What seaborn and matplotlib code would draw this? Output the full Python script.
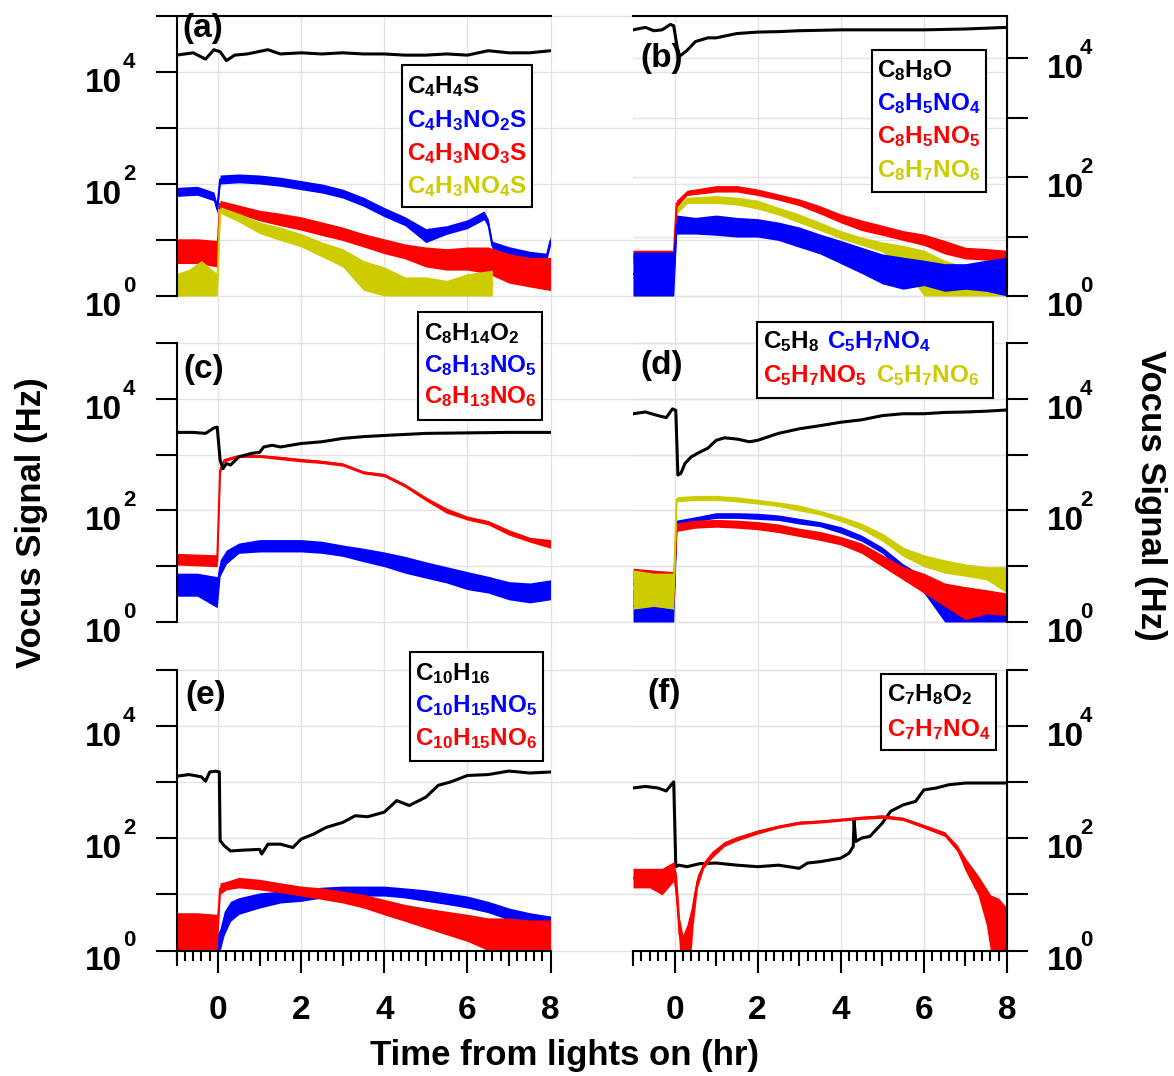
import numpy as np
import matplotlib
matplotlib.use("Agg")
import matplotlib.pyplot as plt
import matplotlib.transforms as mtransforms
import seaborn as sns
from matplotlib.patches import Rectangle
from matplotlib.ticker import FixedLocator, MultipleLocator, NullLocator

# ---------------- data (Hz vs hours from lights on) ----------------
# panel (a)
a_black_t = [-1, -0.6, -0.3, -0.1, 0.05, 0.2, 0.4, 0.7, 1.2, 1.5, 2, 2.5, 3, 3.5, 4, 4.5, 5, 5.5, 6, 6.5, 7, 7.5, 8]
a_black_v = [20000, 22000, 17000, 25000, 23000, 16000, 20000, 21000, 25000, 21000, 22000, 21000, 22000, 21000,
             21000, 20000, 20000, 21000, 20000, 24000, 22000, 22000, 24000]
a_blue_t = [-1, -0.5, -0.1, -0.02, 0.05, 0.5, 1, 1.5, 2, 2.5, 3, 3.5, 4, 4.5, 5, 5.5, 6, 6.4, 6.5, 6.6, 7, 7.5, 7.9, 8]
a_blue_lo = [60, 63, 50, 30, 100, 105, 100, 91, 79, 69, 56, 40, 26, 18, 9, 12.6, 16, 23, 17, 6.6, 5.2, 4.4, 4.0, 8.1]
a_blue_hi = [87, 91, 72, 43, 145, 151, 145, 132, 115, 100, 81, 58, 38, 26, 16, 18, 23, 33, 24, 9.5, 7.6, 6.3, 5.8, 11.7]
a_red_t = [-1, -0.5, -0.02, 0.05, 0.5, 1, 1.5, 2, 2.5, 3, 3.5, 4, 4.5, 5, 5.5, 6, 6.5, 7, 7.5, 8]
a_red_lo = [3.8, 3.8, 3.3, 39, 29, 22, 18, 15, 12, 9.8, 7.5, 5.7, 4.6, 3.3, 2.9, 2.9, 2.5, 1.7, 1.45, 1.25]
a_red_hi = [10.5, 10.5, 9.8, 51, 42, 34, 30, 26, 21, 17, 13, 10.5, 8.5, 7.5, 7, 7.5, 7.5, 5.7, 4.9, 4.9]
a_yel_t = [-1, -0.7, -0.4, -0.02, 0.05, 0.5, 1, 1.5, 2, 2.5, 3, 3.5, 4, 4.5, 5, 5.5, 6, 6.6]
a_yel_lo = [1, 1, 1, 1, 30, 21, 13, 9.8, 7.5, 5, 3.3, 1.26, 1, 1, 1, 1, 1, 1]
a_yel_hi = [2.5, 3.0, 4.3, 2.5, 39, 30, 21, 17, 13, 9.2, 7, 4.3, 3.3, 2.2, 2.2, 1.9, 2.5, 2.9]

# panel (b)
b_black_t = [-1, -0.7, -0.5, -0.3, -0.1, -0.02, 0.1, 0.3, 0.5, 0.8, 1, 1.5, 2, 2.5, 3, 4, 5, 6, 7, 8]
b_black_v = [30000, 33000, 29000, 30000, 37000, 35000, 10500, 13500, 19000, 22000, 22000, 26000, 27500, 28000,
             29000, 30000, 30000, 30000, 31000, 33000]
b_yel_t = [-1, -0.02, 0.05, 0.3, 1, 1.5, 2, 2.5, 3, 3.5, 4, 4.5, 5, 5.5, 6, 6.5, 7, 7.5, 8]
b_yel_lo = [1, 1, 24, 36, 36, 34, 29, 23, 17, 12.6, 9.2, 7.1, 5.5, 3.1, 1, 1, 1, 1, 1]
b_yel_hi = [4, 4, 31, 46, 49, 46, 41, 31, 24, 17.5, 12.6, 9.8, 8.1, 7.1, 5.9, 4, 3.1, 2.4, 2.4]
b_red_t = [-1, -0.02, 0.05, 0.3, 1, 1.5, 2, 2.5, 3, 3.5, 4, 4.5, 5, 5.5, 6, 6.5, 7, 7.5, 8]
b_red_lo = [3.5, 3.5, 31, 49, 56, 56, 49, 41, 33, 24, 17, 12.6, 10.5, 8.6, 7.1, 5.1, 4.2, 4.0, 4.0]
b_red_hi = [5.9, 5.9, 41, 60, 72, 72, 63, 52, 43, 33, 24, 19, 15.5, 12.6, 11, 8.6, 6.6, 6.3, 5.9]
b_blue_t = [-1, -0.02, 0.05, 0.5, 1, 1.5, 2, 2.5, 3, 3.5, 4, 4.5, 5, 5.5, 6, 6.5, 7, 7.5, 8]
b_blue_lo = [1, 1, 11, 11, 10.5, 9.8, 9.8, 8.6, 6.6, 5.1, 3.5, 2.4, 1.6, 1.3, 1.5, 1.2, 1.3, 1.2, 1.0]
b_blue_hi = [5.5, 5.5, 23, 21, 23, 21, 20, 17.5, 14.5, 11, 8.6, 6.6, 5.1, 4.5, 4, 3.5, 3.5, 4, 4.5]

# panel (c)
c_black_t = [-1, -0.6, -0.3, -0.1, -0.02, 0.05, 0.12, 0.2, 0.3, 0.5, 0.8, 1, 1.1, 1.3, 1.5, 2, 2.5, 3, 3.5, 4, 5, 6, 7, 8]
c_black_v = [2500, 2500, 2400, 3000, 3100, 790, 560, 690, 650, 910, 1050, 1100, 1370, 1470, 1370, 1580, 1700,
             1950, 2100, 2200, 2400, 2450, 2500, 2500]
c_red_t = [-1, -0.02, 0.05, 0.15, 0.5, 1, 1.5, 2, 2.5, 3, 3.5, 4, 4.5, 5, 5.5, 6, 6.5, 7, 7.5, 8]
c_red_lo = [10.5, 9.8, 460, 740, 890, 890, 810, 740, 690, 620, 450, 400, 260, 148, 89, 67, 55, 36, 27, 21]
c_red_hi = [17, 16, 600, 850, 1000, 1000, 930, 850, 790, 710, 510, 460, 300, 175, 110, 79, 66, 45, 33, 30]
c_blue_t = [-1, -0.5, -0.02, 0.05, 0.2, 0.5, 1, 1.5, 2, 2.5, 3, 3.5, 4, 4.5, 5, 5.5, 6, 6.5, 7, 7.5, 8]
c_blue_lo = [2.9, 2.9, 1.8, 6.6, 11, 17, 18, 18, 18, 17, 15, 12, 9.8, 7.5, 6.1, 5, 3.8, 3.3, 2.5, 2.2, 2.5]
c_blue_hi = [7.5, 7.5, 6.5, 13, 19.5, 26, 30, 30, 30, 28, 24, 21, 18, 15, 12, 9.8, 8, 6.6, 5.3, 5, 5.7]

# panel (d)
d_black_t = [-1, -0.7, -0.4, -0.2, -0.05, 0.03, 0.08, 0.15, 0.25, 0.4, 0.6, 0.8, 1, 1.2, 1.5, 1.8, 2, 2.5, 3,
             3.5, 4, 4.5, 5, 5.5, 6, 6.5, 7, 7.5, 8]
d_black_v = [5400, 5800, 5000, 4600, 6600, 6200, 430, 460, 690, 910, 1100, 1300, 1800, 2000, 1900, 1700, 1800,
             2400, 2900, 3300, 3800, 4200, 5000, 5400, 5400, 5700, 5800, 6000, 6300]
d_blue_t = [-1, -0.02, 0.05, 0.5, 1, 1.5, 2, 2.5, 3, 3.5, 4, 4.5, 5, 5.5, 6, 6.5, 7, 7.5, 8]
d_blue_lo = [1, 1, 55, 63, 72, 72, 69, 66, 57, 51, 39, 28, 17, 7.5, 3.3, 1, 1, 1, 1]
d_blue_hi = [3.8, 3.5, 67, 77, 91, 91, 89, 83, 72, 63, 51, 36, 22, 11, 6.6, 3.8, 2.5, 2.5, 2.9]
d_red_t = [-1, -0.5, -0.02, 0.05, 0.5, 1, 1.5, 2, 2.5, 3, 3.5, 4, 4.5, 5, 5.5, 6, 6.5, 7, 7.5, 8]
d_red_lo = [2.5, 2.3, 2.1, 42, 48, 50, 48, 45, 40, 34, 29, 24, 17, 9.8, 5.7, 3.3, 1.9, 1.1, 1.4, 1.3]
d_red_hi = [9.2, 8.5, 8, 59, 67, 69, 67, 63, 57, 48, 42, 34, 26, 16, 9.8, 7.5, 5, 4.3, 3.8, 3.3]
d_yel_t = [-1, -0.5, -0.02, 0.05, 0.5, 1, 1.5, 2, 2.5, 3, 3.5, 4, 4.5, 5, 5.5, 6, 6.5, 7, 7.5, 8]
d_yel_lo = [1.7, 1.9, 1.7, 142, 151, 151, 142, 130, 117, 98, 83, 63, 45, 28, 15, 9.8, 7.5, 6.6, 5.7, 3.3]
d_yel_hi = [8.6, 7.5, 7.5, 175, 186, 186, 175, 158, 142, 125, 100, 79, 59, 39, 22, 16, 13, 11, 9.8, 9.8]

# panel (e)
e_black_t = [-1, -0.7, -0.4, -0.3, -0.2, -0.05, 0.03, 0.05, 0.15, 0.3, 0.6, 1, 1.05, 1.2, 1.5, 1.8, 2, 2.3, 2.6,
             3, 3.3, 3.6, 4, 4.3, 4.6, 5, 5.3, 5.6, 6, 6.5, 7, 7.5, 8]
e_black_v = [1260, 1350, 1230, 1030, 1500, 1550, 1500, 90, 73, 59, 61, 63, 52, 78, 78, 68, 96, 118, 155, 190,
             250, 240, 290, 465, 380, 535, 870, 1000, 1300, 1350, 1560, 1440, 1500]
e_blue_t = [-1, -0.02, 0.05, 0.15, 0.3, 0.5, 1, 1.5, 2, 2.5, 3, 3.5, 4, 4.5, 5, 5.5, 6, 6.5, 7, 7.5, 8]
e_blue_lo = [1, 1, 1, 1.9, 3.3, 4.4, 5.7, 7, 7.5, 8.6, 9.3, 9.3, 9.3, 8.6, 7.5, 6.6, 5.7, 4.7, 3.5, 3.1, 2.9]
e_blue_hi = [1.9, 1.9, 2.5, 5, 7.5, 8.7, 10.6, 11.4, 12.2, 13.4, 14, 14, 14, 13, 12, 10.6, 9.3, 7.5, 5.7, 4.7, 4.1]
e_red_t = [-1, -0.5, -0.02, 0.05, 0.2, 0.5, 1, 1.5, 2, 2.5, 3, 3.5, 4, 4.5, 5, 5.5, 6, 6.5, 7, 7.5, 8]
e_red_lo = [1, 1, 1, 10, 12, 13, 12, 10.7, 9.3, 8.1, 7, 5.7, 4.3, 3.3, 2.5, 1.9, 1.45, 1, 1, 1, 1]
e_red_hi = [4.7, 4.7, 4.4, 16, 17, 20, 18.5, 16, 14, 13, 11.4, 10, 8.1, 6.6, 5.7, 5, 4.4, 3.8, 3.8, 3.5, 3.5]

# panel (f)
f_black_t = [-1, -0.7, -0.4, -0.2, -0.08, -0.02, 0.03, 0.1, 0.3, 0.6, 1, 1.5, 2, 2.5, 3, 3.2, 3.5, 4, 4.2, 4.3,
             4.32, 4.36, 4.5, 4.7, 5, 5.2, 5.5, 5.8, 6, 6.3, 6.6, 7, 7.5, 8]
f_black_v = [780, 830, 780, 690, 890, 1000, 31, 33, 31, 35, 36, 33, 31, 33, 29, 36, 38, 44, 54, 71, 210, 87, 100,
             107, 185, 300, 390, 450, 720, 780, 890, 955, 955, 955]
f_red_t = [-1, -0.6, -0.3, -0.02, 0.05, 0.12, 0.2, 0.3, 0.4, 0.45, 0.55, 0.7, 0.9, 1.2, 1.5, 2, 2.5, 3, 3.5, 4,
           4.5, 5, 5.5, 6, 6.5, 6.8, 7, 7.3, 7.5, 7.6, 7.8, 8]
f_red_lo = [13, 13, 9.8, 17, 5.6, 1, 1, 1, 1, 2.9, 13, 29, 44, 71, 89, 118, 150, 175, 185, 200, 215, 225, 205,
            150, 107, 58, 26, 9.8, 2.9, 1, 1, 1]
f_red_hi = [29, 29, 29, 38, 22, 3.8, 1.9, 2.9, 5.7, 9.8, 22, 38, 58, 87, 107, 140, 170, 200, 210, 225, 245, 260,
            235, 175, 130, 76, 44, 22, 13, 9.8, 8.5, 5.7]

# legend labels
a_labels = [r'$C_4H_4S$', r'$C_4H_3NO_2S$', r'$C_4H_3NO_3S$', r'$C_4H_3NO_4S$']
b_labels = [r'$C_8H_8O$', r'$C_8H_5NO_4$', r'$C_8H_5NO_5$', r'$C_8H_7NO_6$']
c_labels = [r'$C_8H_{14}O_2$', r'$C_8H_{13}NO_5$', r'$C_8H_{13}NO_6$']
d_labels = [r'$C_5H_8$', r'$C_5H_7NO_4$', r'$C_5H_7NO_5$', r'$C_5H_7NO_6$']
e_labels = [r'$C_{10}H_{16}$', r'$C_{10}H_{15}NO_5$', r'$C_{10}H_{15}NO_6$']
f_labels = [r'$C_7H_8O_2$', r'$C_7H_7NO_4$']

x_major = [0, 2, 4, 6, 8]
x_odd = [-1, 1, 3, 5, 7]

# ---------------- style ----------------
sns.set_style("white")
plt.rcParams['font.family'] = ['Liberation Sans', 'DejaVu Sans']
plt.rcParams['font.weight'] = 'bold'
for key in ('text.color', 'axes.labelcolor', 'xtick.color', 'ytick.color', 'axes.edgecolor'):
    plt.rcParams[key] = 'black'
plt.rcParams['mathtext.fontset'] = 'custom'
plt.rcParams['mathtext.rm'] = 'Liberation Sans:bold'
plt.rcParams['mathtext.bf'] = 'Liberation Sans:bold'
plt.rcParams['mathtext.it'] = 'Liberation Sans:bold'
plt.rcParams['mathtext.sf'] = 'Liberation Sans:bold'
plt.rcParams['mathtext.default'] = 'bf'

BLACK, BLUE, RED, YEL = '#000000', '#0000ff', '#ff0000', '#cccc00'
GRID = '#e3e3e3'
W, H = 1174, 1076

fig = plt.figure(figsize=(W / 100, H / 100), dpi=100)
fig.patch.set_facecolor('white')


def px_rect(x0, x1, ytop, ybot):
    return [x0 / W, 1 - ybot / H, (x1 - x0) / W, (ybot - ytop) / H]


LX0, LX1 = 176.5, 550.5
RX0, RX1 = 633, 1007
ax_a = fig.add_axes(px_rect(LX0, LX1, 16, 296))
ax_b = fig.add_axes(px_rect(RX0, RX1, 16, 296))
ax_c = fig.add_axes(px_rect(LX0, LX1, 343, 622))
ax_d = fig.add_axes(px_rect(RX0, RX1, 343, 622))
ax_e = fig.add_axes(px_rect(LX0, LX1, 669.5, 950.5))
ax_f = fig.add_axes(px_rect(RX0, RX1, 669.5, 950.5))


def setup(ax, side, ytop, top_spine, bottom, ext_right, ext_down):
    ax.set_facecolor('none')
    ax.set_yscale('log')
    ax.set_xlim(-1, 8)
    ax.set_ylim(1, ytop)
    for s in ax.spines.values():
        s.set_visible(False)
        s.set_linewidth(1.5)
        s.set_color('black')
    ax.spines[side].set_visible(True)
    if top_spine:
        ax.spines['top'].set_visible(True)
    nmax = int(np.floor(np.log10(ytop) + 1e-9))
    ticks = [10.0 ** k for k in range(0, nmax + 1)]
    ax.yaxis.set_major_locator(FixedLocator(ticks))
    ax.yaxis.set_minor_locator(NullLocator())
    ax.set_yticklabels([''] * len(ticks))
    ax.yaxis.set_ticks_position(side)
    ax.tick_params(axis='y', which='major', length=15, width=1.5, direction='out', color='black')
    # "10" + superscript labels at the even decades
    blend = mtransforms.blended_transform_factory(ax.transAxes, ax.transData)
    for k in range(0, nmax + 1, 2):
        if side == 'left':
            tb = mtransforms.offset_copy(blend, fig=fig, x=-54.5, y=-20, units='dots')
            te = mtransforms.offset_copy(blend, fig=fig, x=-53.5, y=4, units='dots')
            ax.text(0, 10.0 ** k, '10', transform=tb, ha='right', va='baseline', fontsize=24,
                    color='black', clip_on=False)
            ax.text(0, 10.0 ** k, str(k), transform=te, ha='left', va='baseline', fontsize=16,
                    color='black', clip_on=False)
        else:
            tb = mtransforms.offset_copy(blend, fig=fig, x=40, y=-20, units='dots')
            te = mtransforms.offset_copy(blend, fig=fig, x=73, y=4, units='dots')
            ax.text(1, 10.0 ** k, '10', transform=tb, ha='left', va='baseline', fontsize=24,
                    color='black', clip_on=False)
            ax.text(1, 10.0 ** k, str(k), transform=te, ha='left', va='baseline', fontsize=16,
                    color='black', clip_on=False)
    # grid
    xmax_frac = (RX1 - LX0) / (LX1 - LX0) if ext_right else 1
    for k in range(0, nmax + 1):
        ax.axhline(10.0 ** k, xmin=0, xmax=xmax_frac, color=GRID, lw=1.0, zorder=0.2, clip_on=False)
    for xv in x_major:
        ax.axvline(xv, ymin=-ext_down, ymax=1, color=GRID, lw=1.0, zorder=0.2, clip_on=False)
    if bottom:
        ax.spines['bottom'].set_visible(True)
        ax.xaxis.set_major_locator(FixedLocator(x_major))
        ax.xaxis.set_minor_locator(MultipleLocator(0.2))
        ax.set_xticklabels([str(v) for v in x_major])
        ax.tick_params(axis='x', which='major', length=16, width=1.5, direction='out',
                       labelsize=24, pad=16, bottom=True, colors='black')
        ax.tick_params(axis='x', which='minor', length=7, width=1.5, direction='out', bottom=True,
                       colors='black')
        sec = ax.secondary_xaxis('bottom')
        sec.xaxis.set_major_locator(FixedLocator(x_odd))
        sec.xaxis.set_minor_locator(NullLocator())
        sec.tick_params(axis='x', which='major', length=11, width=1.5, direction='out',
                        labelbottom=False, colors='black')
        for s in sec.spines.values():
            s.set_visible(False)
    else:
        ax.set_xticks([])
        ax.tick_params(axis='x', which='both', bottom=False, labelbottom=False)
    ax.set_xlabel('')
    ax.set_ylabel('')


gap = (343 - 296) / 280.0
setup(ax_a, 'left', 1e5, True, False, True, gap)
setup(ax_b, 'right', 10 ** 4.71, True, False, False, gap)
setup(ax_c, 'left', 1e5, False, False, True, (669.5 - 622) / 279.0)
setup(ax_d, 'right', 1e5, False, False, False, (669.5 - 622) / 279.0)
setup(ax_e, 'left', 1e5, False, True, True, 0)
setup(ax_f, 'right', 1e5, False, True, False, 0)


def line(ax, t, v, color, lw=2.2, z=3):
    sns.lineplot(x=t, y=v, ax=ax, color=color, lw=lw, estimator=None, errorbar=None, zorder=z)


def band(ax, t, lo, hi, color, z=2):
    ax.fill_between(t, lo, hi, color=color, lw=0, zorder=z)
    mid = np.sqrt(np.asarray(lo, float) * np.asarray(hi, float))
    sns.lineplot(x=t, y=mid, ax=ax, color=color, lw=1.5, estimator=None, errorbar=None, zorder=z)


# (a)
line(ax_a, a_black_t, a_black_v, BLACK)
band(ax_a, a_blue_t, a_blue_lo, a_blue_hi, BLUE, 2.1)
band(ax_a, a_red_t, a_red_lo, a_red_hi, RED, 2.2)
band(ax_a, a_yel_t, a_yel_lo, a_yel_hi, YEL, 2.3)
# (b)
line(ax_b, b_black_t, b_black_v, BLACK)
band(ax_b, b_yel_t, b_yel_lo, b_yel_hi, YEL, 2.1)
band(ax_b, b_red_t, b_red_lo, b_red_hi, RED, 2.2)
band(ax_b, b_blue_t, b_blue_lo, b_blue_hi, BLUE, 2.3)
# (c)
band(ax_c, c_blue_t, c_blue_lo, c_blue_hi, BLUE, 2.1)
band(ax_c, c_red_t, c_red_lo, c_red_hi, RED, 2.2)
line(ax_c, c_black_t, c_black_v, BLACK)
# (d)
band(ax_d, d_blue_t, d_blue_lo, d_blue_hi, BLUE, 2.1)
band(ax_d, d_red_t, d_red_lo, d_red_hi, RED, 2.2)
band(ax_d, d_yel_t, d_yel_lo, d_yel_hi, YEL, 2.3)
line(ax_d, d_black_t, d_black_v, BLACK)
# (e)
band(ax_e, e_blue_t, e_blue_lo, e_blue_hi, BLUE, 2.1)
band(ax_e, e_red_t, e_red_lo, e_red_hi, RED, 2.2)
line(ax_e, e_black_t, e_black_v, BLACK)
# (f)
line(ax_f, f_black_t, f_black_v, BLACK, z=2.1)
band(ax_f, f_red_t, f_red_lo, f_red_hi, RED, 2.2)

for ax in (ax_a, ax_b, ax_c, ax_d, ax_e, ax_f):
    ax.set_xlim(-1, 8)


# ---------------- legends ----------------
def legend_box(x0, y0, x1, y1, entries):
    fig.add_artist(Rectangle((x0 / W, 1 - y1 / H), (x1 - x0) / W, (y1 - y0) / H,
                             transform=fig.transFigure, facecolor='white', edgecolor='black',
                             lw=1.5, zorder=5))
    for (x, yb, label, color) in entries:
        fig.text(x / W, 1 - yb / H, label, color=color, fontsize=17.5, ha='left', va='baseline', zorder=6)


legend_box(402, 65, 532, 207, [(407, 93, a_labels[0], BLACK), (407, 127, a_labels[1], BLUE),
                                (407, 160, a_labels[2], RED), (407, 193, a_labels[3], YEL)])
legend_box(872, 50, 986, 192, [(877, 77, b_labels[0], BLACK), (877, 110, b_labels[1], BLUE),
                                (877, 143, b_labels[2], RED), (877, 177, b_labels[3], YEL)])
legend_box(418, 312, 542, 420, [(424, 340, c_labels[0], BLACK), (424, 372, c_labels[1], BLUE),
                                 (424, 403, c_labels[2], RED)])
legend_box(757, 322, 993, 398, [(763, 348, d_labels[0], BLACK), (827, 348, d_labels[1], BLUE),
                                 (763, 382, d_labels[2], RED), (876, 382, d_labels[3], YEL)])
legend_box(410, 652, 543, 761, [(415, 680, e_labels[0], BLACK), (415, 712, e_labels[1], BLUE),
                                 (415, 745, e_labels[2], RED)])
legend_box(881, 674, 996, 750, [(887, 701, f_labels[0], BLACK), (887, 736, f_labels[1], RED)])

# panel letters
for (x, y, s) in [(182, 13, '(a)'), (640, 43, '(b)'), (183, 354, '(c)'),
                  (640, 350, '(d)'), (185, 680, '(e)'), (647, 678, '(f)')]:
    fig.text(x / W, 1 - y / H, s, fontsize=24, ha='left', va='top', color='black', zorder=6)

# axis labels
fig.text(32 / W, 1 - 523 / H, 'Vocus Signal (Hz)', rotation=90, ha='center', va='center', fontsize=25,
         color='black')
fig.text(1150 / W, 1 - 495 / H, 'Vocus Signal (Hz)', rotation=270, ha='center', va='center', fontsize=25,
         color='black')
fig.text(565 / W, 1 - 1055 / H, 'Time from lights on (hr)', ha='center', va='center', fontsize=25,
         color='black')

fig.savefig('out.png', dpi=100)
